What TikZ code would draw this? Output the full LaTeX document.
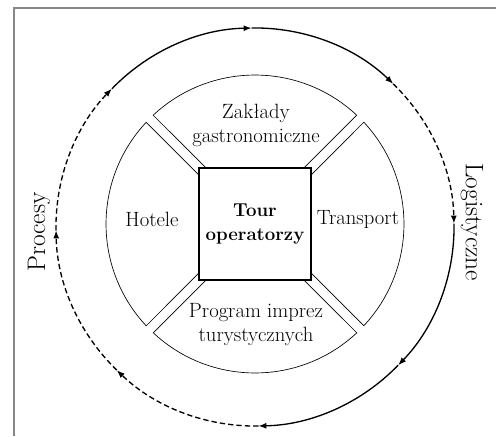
\documentclass[tikz,border=0pt]{standalone}
\usepackage{fontspec}
\usetikzlibrary{arrows.meta}

\begin{document}
\begin{tikzpicture}[x=0.75pt,y=0.75pt,yscale=-1,xscale=1,
  ring/.style={line width=1pt,-{Latex[length=6pt,width=4.5pt]}},
  dashring/.style={ring,dash pattern={on 4pt off 2.3pt}},
  part/.style={line width=0.5pt},
  txt/.style={font=\fontsize{15.5}{18}\selectfont,align=center},
  side/.style={font=\fontsize{19}{22}\selectfont}]
\useasboundingbox (0,0) rectangle (496,436);

%Straight Lines [frame]
\draw [color={rgb, 255:red, 135; green, 135; blue, 135 }, line width=1pt]  (14,436) -- (14,8) -- (496,8) ;

%Arc [outer ring, clockwise]
\draw [dashring]  (116.8,370.1) arc [start angle=134, end angle=179, radius=199] ;
\draw [dashring]  (56.0,230.5) arc [start angle=179, end angle=224, radius=199] ;
\draw [ring]  (111.9,88.8) arc [start angle=224, end angle=269, radius=199] ;
\draw [ring]  (251.5,28.0) arc [start angle=269, end angle=314, radius=199] ;
\draw [dashring]  (393.2,83.9) arc [start angle=314, end angle=359, radius=199] ;
\draw [ring]  (454.0,223.5) arc [start angle=-1, end angle=44, radius=199] ;
\draw [ring]  (398.1,365.2) arc [start angle=44, end angle=89, radius=199] ;
\draw [dashring]  (258.5,426.0) arc [start angle=89, end angle=134, radius=199] ;

%Shape: Arc [top part]
\draw [part]  (206.1,168) -- (153.2,115.2) arc [start angle=-133.08, end angle=-46.92, radius=149] -- (303.9,168) ;
%Shape: Arc [right part]
\draw [part]  (311,175.1) -- (363.8,122.2) arc [start angle=-43.08, end angle=43.08, radius=149] -- (311,272.9) ;
%Shape: Arc [bottom part]
\draw [part]  (303.9,280) -- (356.8,332.8) arc [start angle=46.92, end angle=133.08, radius=149] -- (206.1,280) ;
%Shape: Arc [left part]
\draw [part]  (199,272.9) -- (146.2,325.8) arc [start angle=136.92, end angle=223.08, radius=149] -- (199,175.1) ;

%Shape: Square [center]
\draw (255,224) node (tour) [draw, line width=0.8pt, minimum width=84pt, minimum height=84pt, align=center, font=\fontsize{14}{18.5}\selectfont\bfseries] {Tour\\operatorzy};

% Text Node
\draw (256,125) node (zaklady) [txt] {Zakłady\\gastronomiczne};
% Text Node
\draw (152,219) node (hotele) [txt] {Hotele};
% Text Node
\draw (358,219) node (transport) [txt] {Transport};
% Text Node
\draw (256,325) node (program) [txt] {Program imprez\\turystycznych};
% Text Node
\draw (39,232) node (procesy) [side, rotate=90] {Procesy};
% Text Node
\draw (472,222) node (logistyczne) [side, rotate=-90] {Logistyczne};

\end{tikzpicture}
\end{document}
